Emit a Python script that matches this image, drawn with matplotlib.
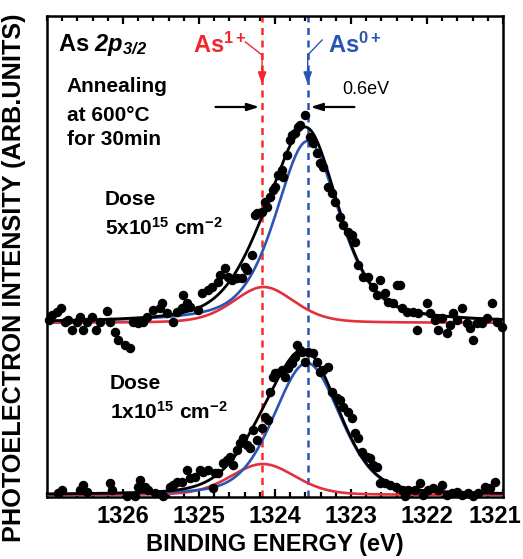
# XPS As 2p3/2 spectra after annealing, two implant doses
import numpy as np
import matplotlib.pyplot as plt
import matplotlib.transforms as mtransforms

plt.rcParams['font.family'] = 'Liberation Sans'
plt.rcParams['mathtext.fontset'] = 'custom'
plt.rcParams['mathtext.rm'] = 'Liberation Sans'
plt.rcParams['mathtext.bf'] = 'Liberation Sans:bold'
plt.rcParams['mathtext.it'] = 'Liberation Sans:italic'
plt.rcParams['mathtext.bfit'] = 'Liberation Sans:italic:bold'

# measured points, dose 5x10^15 (binding energy eV, intensity arb.)
e_hi = [1326.98, 1326.93, 1326.87, 1326.82, 1326.76, 1326.72, 1326.67, 1326.61, 1326.57, 1326.53,
        1326.47, 1326.41, 1326.36, 1326.30, 1326.21, 1326.17, 1326.11, 1326.07, 1325.97, 1325.91,
        1325.87, 1325.80, 1325.74, 1325.68, 1325.61, 1325.51, 1325.49, 1325.42, 1325.34, 1325.29,
        1325.22, 1325.21, 1325.16, 1325.12, 1325.01, 1324.96, 1324.88, 1324.83, 1324.75, 1324.72,
        1324.66, 1324.62, 1324.57, 1324.50, 1324.43, 1324.39, 1324.37, 1324.30, 1324.26, 1324.24,
        1324.20, 1324.17, 1324.13, 1324.11, 1324.07, 1324.03, 1324.00, 1323.96, 1323.91, 1323.89,
        1323.84, 1323.80, 1323.78, 1323.74, 1323.70, 1323.67, 1323.61, 1323.54, 1323.50, 1323.45,
        1323.41, 1323.37, 1323.30, 1323.25, 1323.21, 1323.14, 1323.11, 1323.04, 1322.99, 1322.95,
        1322.91, 1322.84, 1322.78, 1322.71, 1322.66, 1322.62, 1322.55, 1322.51, 1322.45, 1322.39,
        1322.36, 1322.33, 1322.26, 1322.18, 1322.13, 1322.12, 1322.00, 1321.96, 1321.89, 1321.86,
        1321.80, 1321.74, 1321.70, 1321.66, 1321.61, 1321.54, 1321.47, 1321.43, 1321.39, 1321.34,
        1321.28, 1321.21, 1321.14, 1321.08, 1321.01]
i_hi = [1.77, 1.82, 1.85, 1.89, 1.75, 1.77, 1.67, 1.75, 1.80, 1.67,
        1.75, 1.80, 1.67, 1.75, 1.86, 1.75, 1.65, 1.57, 1.52, 1.49,
        1.75, 1.74, 1.75, 1.80, 1.87, 1.89, 1.94, 1.84, 1.75, 1.85,
        1.89, 2.02, 1.94, 1.90, 1.87, 2.04, 2.07, 2.10, 2.15, 2.22,
        2.29, 2.20, 2.17, 2.19, 2.19, 2.30, 2.27, 2.42, 2.82, 2.84,
        2.84, 2.85, 2.95, 2.90, 3.00, 3.07, 3.10, 3.22, 3.27, 3.20,
        3.42, 3.57, 3.62, 3.64, 3.70, 3.72, 3.82, 3.60, 3.54, 3.44,
        3.34, 3.30, 3.10, 3.04, 2.95, 2.80, 2.72, 2.65, 2.62, 2.55,
        2.32, 2.20, 2.20, 2.10, 2.02, 2.17, 2.04, 1.95, 1.94, 2.12,
        2.12, 1.89, 1.85, 1.85, 1.67, 1.84, 1.94, 1.84, 1.77, 1.67,
        1.79, 1.64, 1.72, 1.84, 1.77, 1.89, 1.74, 1.69, 1.57, 1.74,
        1.74, 1.79, 1.94, 1.75, 1.70]

# measured points, dose 1x10^15
e_lo = [1326.86, 1326.80, 1326.57, 1326.53, 1326.47, 1326.17, 1326.14, 1325.95, 1325.84, 1325.80,
        1325.78, 1325.71, 1325.67, 1325.58, 1325.47, 1325.38, 1325.34, 1325.29, 1325.22, 1325.16,
        1325.12, 1325.05, 1324.99, 1324.95, 1324.88, 1324.82, 1324.79, 1324.75, 1324.68, 1324.63,
        1324.59, 1324.55, 1324.50, 1324.46, 1324.42, 1324.37, 1324.33, 1324.29, 1324.24, 1324.17,
        1324.13, 1324.09, 1324.07, 1324.03, 1324.00, 1323.97, 1323.91, 1323.87, 1323.83, 1323.78,
        1323.74, 1323.71, 1323.67, 1323.64, 1323.61, 1323.57, 1323.50, 1323.45, 1323.41, 1323.37,
        1323.30, 1323.25, 1323.18, 1323.14, 1323.11, 1323.04, 1322.99, 1322.95, 1322.91, 1322.86,
        1322.79, 1322.75, 1322.71, 1322.66, 1322.62, 1322.55, 1322.49, 1322.41, 1322.33, 1322.29,
        1322.25, 1322.16, 1322.09, 1322.05, 1321.99, 1321.92, 1321.86, 1321.80, 1321.74, 1321.67,
        1321.61, 1321.54, 1321.46, 1321.39, 1321.33, 1321.24, 1321.17, 1321.11]
i_lo = [0.04, 0.07, 0.07, 0.12, 0.05, 0.14, 0.07, 0.01, 0.01, 0.10,
        0.17, 0.10, 0.07, 0.04, 0.01, 0.10, 0.12, 0.15, 0.15, 0.27,
        0.19, 0.20, 0.27, 0.25, 0.27, 0.09, 0.24, 0.24, 0.34, 0.37,
        0.40, 0.32, 0.47, 0.54, 0.59, 0.52, 0.49, 0.67, 0.57, 0.69,
        0.80, 0.77, 1.05, 1.20, 1.24, 1.24, 1.27, 1.20, 1.29, 1.34,
        1.40, 1.52, 1.47, 1.45, 1.35, 1.45, 1.44, 1.35, 1.25, 1.27,
        1.30, 1.05, 0.99, 0.97, 0.90, 0.85, 0.79, 0.64, 0.59, 0.45,
        0.40, 0.39, 0.32, 0.30, 0.14, 0.14, 0.12, 0.10, 0.07, 0.01,
        0.07, 0.07, 0.14, 0.02, 0.07, 0.09, 0.07, 0.12, 0.02, 0.04,
        0.05, 0.02, 0.04, 0.01, 0.04, 0.10, 0.09, 0.15]

# fitted components: [center, height, fwhm, lorentz fraction]
base_hi = 1.74
as0_hi = [1323.57, 1.82, 1.00, 0.5]
as1_hi = [1324.15, 0.36, 0.95, 0.3]
base_lo = 0.02
as0_lo = [1323.58, 1.32, 1.03, 0.3]
as1_lo = [1324.16, 0.31, 1.00, 0.2]

pos_as1 = 1324.17
pos_as0 = 1323.57


def pvoigt(x, p):
    c, a, w, eta = p
    g = np.exp(-4 * np.log(2) * ((x - c) / w) ** 2)
    l = 1.0 / (1 + 4 * ((x - c) / w) ** 2)
    return a * (eta * l + (1 - eta) * g)


red = '#e3313b'
blue = '#2b55b3'

fig = plt.figure(figsize=(5.23, 5.59), dpi=100)
ax = fig.add_axes([0.0899, 0.1109, 0.8719, 0.8605])

ex = np.linspace(1327, 1321, 600)
for base, p0, p1 in [(base_hi, as0_hi, as1_hi), (base_lo, as0_lo, as1_lo)]:
    b0 = pvoigt(ex, p0)
    b1 = pvoigt(ex, p1)
    ax.plot(ex, base + b1, color=red, lw=1.9, zorder=3)
    ax.plot(ex, base + b0, color=blue, lw=1.9, zorder=3)
    ax.plot(ex, base + b0 + b1, color='black', lw=2.0, zorder=4)

ax.scatter(e_hi, i_hi, s=34, color='black', zorder=5, clip_on=False)
ax.scatter(e_lo, i_lo, s=34, color='black', zorder=5, clip_on=False)

ax.axvline(pos_as1, color='#ff2a2a', lw=1.8, dashes=(2.8, 2.2), zorder=2)
ax.axvline(pos_as0, color=blue, lw=1.8, dashes=(2.8, 2.2), zorder=2)

ax.set_xlim(1327, 1321)
ax.set_ylim(0, 4.81)
ax.set_xticks([1326, 1325, 1324, 1323, 1322, 1321])
ax.set_xticks(np.arange(1321, 1327.01, 0.2), minor=True)
ax.set_yticks([])
ax.tick_params(axis='x', which='both', direction='in', top=True, bottom=True, width=1.6)
ax.tick_params(axis='x', which='major', length=6, labelsize=17, pad=6)
ax.tick_params(axis='x', which='minor', length=3.5)
for lab in ax.get_xticklabels():
    lab.set_fontweight('bold')
# last label sits at the figure edge, nudge it in a little
last = ax.get_xticklabels()[-1]
last.set_transform(last.get_transform() + mtransforms.ScaledTranslation(-8 / 100, 0, fig.dpi_scale_trans))
for s in ax.spines.values():
    s.set_linewidth(1.8)

ax.set_xlabel('BINDING ENERGY (eV)', fontsize=17, fontweight='bold', labelpad=3)
ax.set_ylabel('PHOTOELECTRON INTENSITY (ARB.UNITS)', fontsize=18.2, fontweight='bold')
ax.yaxis.set_label_coords(-0.045, 0.455)

# labels
ax.text(1326.86, 4.52, r'As $\mathbfit{2p}_{\mathbfit{3/2}}$', fontsize=17, fontweight='bold', va='center')
ax.text(1326.74, 4.10, 'Annealing', fontsize=15, fontweight='bold', va='center')
ax.text(1326.74, 3.81, 'at 600°C', fontsize=15, fontweight='bold', va='center')
ax.text(1326.74, 3.57, 'for 30min', fontsize=15, fontweight='bold', va='center')
ax.text(1323.12, 4.07, '0.6eV', fontsize=13, va='center')

ax.text(1326.24, 2.97, 'Dose', fontsize=15, fontweight='bold', va='center')
ax.text(1326.24, 2.69, r'5x10$^{\mathbf{15}}$ cm$^{\mathbf{-2}}$', fontsize=15, fontweight='bold', va='center')
ax.text(1326.17, 1.14, 'Dose', fontsize=15, fontweight='bold', va='center')
ax.text(1326.17, 0.85, r'1x10$^{\mathbf{15}}$ cm$^{\mathbf{-2}}$', fontsize=15, fontweight='bold', va='center')

ax.text(1325.08, 4.52, r'As$^{\mathbf{1+}}$', fontsize=17, fontweight='bold', color='#f0282d', va='center')
ax.text(1323.30, 4.52, r'As$^{\mathbf{0+}}$', fontsize=17, fontweight='bold', color=blue, va='center')

# pointer lines from the species labels
ax.plot([1324.39, pos_as1, pos_as1], [4.55, 4.42, 4.30], color='#f0282d', lw=1.0)
ax.annotate('', xy=(pos_as1, 4.10), xytext=(pos_as1, 4.32),
            arrowprops=dict(arrowstyle='-|>,head_length=0.7,head_width=0.25', color='#f0282d', lw=1.2))
ax.plot([1323.38, pos_as0, pos_as0], [4.57, 4.42, 4.30], color=blue, lw=1.0)
ax.annotate('', xy=(pos_as0, 4.10), xytext=(pos_as0, 4.32),
            arrowprops=dict(arrowstyle='-|>,head_length=0.7,head_width=0.25', color=blue, lw=1.2))

# 0.6 eV shift marker
ax.annotate('', xy=(pos_as1, 3.90), xytext=(1324.82, 3.90),
            arrowprops=dict(arrowstyle='-|>,head_length=0.7,head_width=0.22', color='black', lw=1.6))
ax.annotate('', xy=(pos_as0, 3.90), xytext=(1322.92, 3.90),
            arrowprops=dict(arrowstyle='-|>,head_length=0.7,head_width=0.22', color='black', lw=1.6))

plt.savefig('out.png', dpi=100)
